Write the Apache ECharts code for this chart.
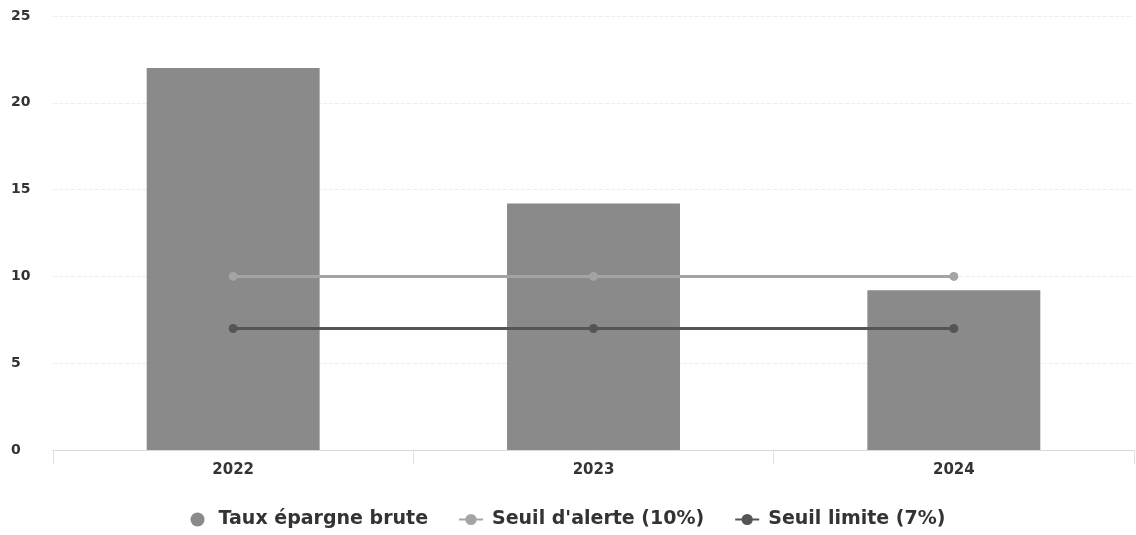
<!DOCTYPE html>
<html>
<head>
<meta charset="utf-8">
<script src="https://cdn.jsdelivr.net/npm/echarts@6/dist/echarts.min.js"></script>
<style>
  html, body { margin: 0; padding: 0; background: #fff; }
  #chart { width: 1136px; height: 535px; }
</style>
</head>
<body>
<div id="chart"></div>
<script>
// Gross savings rate versus the alert and limit thresholds
const years = ['2022', '2023', '2024'];
const tauxEpargneBrute = [22.0, 14.2, 9.2];
const seuilAlerte = [10, 10, 10];
const seuilLimite = [7, 7, 7];
const yTicks = { min: 0, max: 25, interval: 5 };

const FONT = '"DejaVu Sans", sans-serif';

const chart = echarts.init(document.getElementById('chart'), null, { renderer: 'canvas' });

chart.setOption({
  animation: false,
  backgroundColor: '#ffffff',
  grid: { left: 53, right: 2, top: 16, bottom: 85, containLabel: false },
  legend: {
    bottom: 1,
    left: 'center',
    itemGap: 30,
    itemWidth: 24,
    itemHeight: 14,
    textStyle: { fontFamily: FONT, fontWeight: 'bold', fontSize: 19, color: '#333', padding: [0, 0, 0, 4] },
    data: [
      { name: 'Taux épargne brute', icon: 'circle' },
      { name: "Seuil d'alerte (10%)" },
      { name: 'Seuil limite (7%)' }
    ]
  },
  xAxis: {
    type: 'category',
    data: years,
    axisLine: { lineStyle: { color: '#d8d8d8', width: 1 } },
    axisTick: { show: true, length: 14, lineStyle: { color: '#e0e0e0' } },
    axisLabel: { fontFamily: FONT, fontWeight: 'bold', fontSize: 15, color: '#333', margin: 13 }
  },
  yAxis: {
    type: 'value',
    min: yTicks.min,
    max: yTicks.max,
    interval: yTicks.interval,
    axisLine: { show: false },
    axisTick: { show: false },
    splitLine: { lineStyle: { color: '#eeeeee', type: 'dashed' } },
    axisLabel: { fontFamily: FONT, fontWeight: 'bold', fontSize: 14, color: '#333', align: 'left', margin: 42 }
  },
  series: [
    {
      name: 'Taux épargne brute',
      type: 'bar',
      data: tauxEpargneBrute,
      barWidth: '48%',
      itemStyle: { color: '#8a8a8a' },
      z: 1
    },
    {
      name: "Seuil d'alerte (10%)",
      type: 'line',
      data: seuilAlerte,
      symbol: 'circle',
      symbolSize: 9,
      lineStyle: { color: '#a4a4a4', width: 3 },
      itemStyle: { color: '#a4a4a4' },
      z: 3
    },
    {
      name: 'Seuil limite (7%)',
      type: 'line',
      data: seuilLimite,
      symbol: 'circle',
      symbolSize: 9,
      lineStyle: { color: '#555555', width: 3 },
      itemStyle: { color: '#555555' },
      z: 3
    }
  ]
});
</script>
</body>
</html>
